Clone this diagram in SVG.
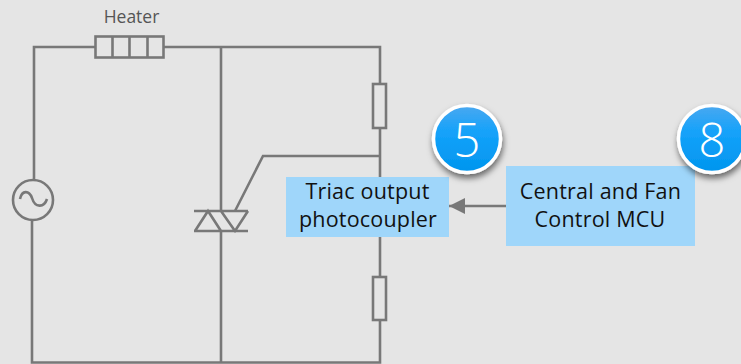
<svg xmlns="http://www.w3.org/2000/svg" width="741" height="364" viewBox="0 0 741 364">
<style>
.w{fill:none;stroke:#787878;stroke-width:2.6;stroke-linejoin:miter}
.box{fill:#9fd6fa}
.t{font-family:"Open Sans","Noto Sans",sans-serif;font-size:21.5px;letter-spacing:.2px;fill:#111;text-anchor:middle}
.n{font-family:"Open Sans","Noto Sans",sans-serif;font-size:47px;font-weight:300;fill:#fff;text-anchor:middle}
.ring{fill:url(#g);stroke:#fff;stroke-width:3.5;filter:url(#s)}
</style>
<defs>
<linearGradient id="g" x1="0" y1="0" x2="0" y2="1"><stop offset="0" stop-color="#4aa8f0"/><stop offset=".4" stop-color="#14a2fa"/><stop offset="1" stop-color="#0095ee"/></linearGradient>
<filter id="s" x="-30%" y="-30%" width="160%" height="170%"><feDropShadow dx="1" dy="4" stdDeviation="3" flood-color="#000" flood-opacity=".55"/></filter>
<marker id="a" markerUnits="userSpaceOnUse" markerWidth="16" markerHeight="16" refX="16" refY="8" orient="auto"><path d="M0 0L16 8L0 16Z" fill="#787878"/></marker>
</defs>
<rect width="741" height="364" fill="#e5e5e5"/>
<g id="connectors">
<path class="w" d="M95 47H34V180M32 220V362.500H380V320M380 277V237M380 178V128M380 84V47H164"/>
<path class="w" d="M221 47V211M221 231V362"/>
<path class="w" d="M235 211L263 156H380"/>
<path class="w" d="M506 206H449" marker-end="url(#a)"/>
</g>
<g id="heater">
<text x="131.500" y="23" text-anchor="middle" style="font-family:'Open Sans','Noto Sans',sans-serif;font-size:17.500px;fill:#555">Heater</text>
<rect class="w" x="95.500" y="36.500" width="68" height="21"/>
<path class="w" d="M112.500 36.500V57.500M129.500 36.500V57.500M147.500 36.500V57.500"/>
</g>
<g id="source">
<circle class="w" cx="33" cy="200" r="20"/>
<path class="w" d="M20 199C22 190 29 190 32 198C35 208 44 208 47 199"/>
</g>
<g id="triac">
<path class="w" d="M194 211H248M194 231H248M195 231L208 211L221 231M221 211L235 231L248 211"/>
</g>
<g id="resistor-top"><rect class="w" x="373" y="84" width="13" height="44"/></g>
<g id="resistor-bottom"><rect class="w" x="373" y="277" width="13" height="43"/></g>
<g id="photocoupler">
<rect class="box" x="286" y="177" width="163" height="60"/>
<text class="t" x="367.500" y="199">Triac output</text>
<text class="t" x="368" y="226.500">photocoupler</text>
</g>
<g id="badge-5">
<circle class="ring" cx="467" cy="139" r="33.500"/>
<text class="n" x="467" y="157">5</text>
</g>
<g id="mcu">
<rect class="box" x="506" y="166" width="189" height="80"/>
<text class="t" x="600.500" y="198.500">Central and Fan</text>
<text class="t" x="600" y="226.500">Control MCU</text>
</g>
<g id="badge-8">
<circle class="ring" cx="712" cy="139" r="33.500"/>
<text class="n" x="712" y="157">8</text>
</g>
</svg>
